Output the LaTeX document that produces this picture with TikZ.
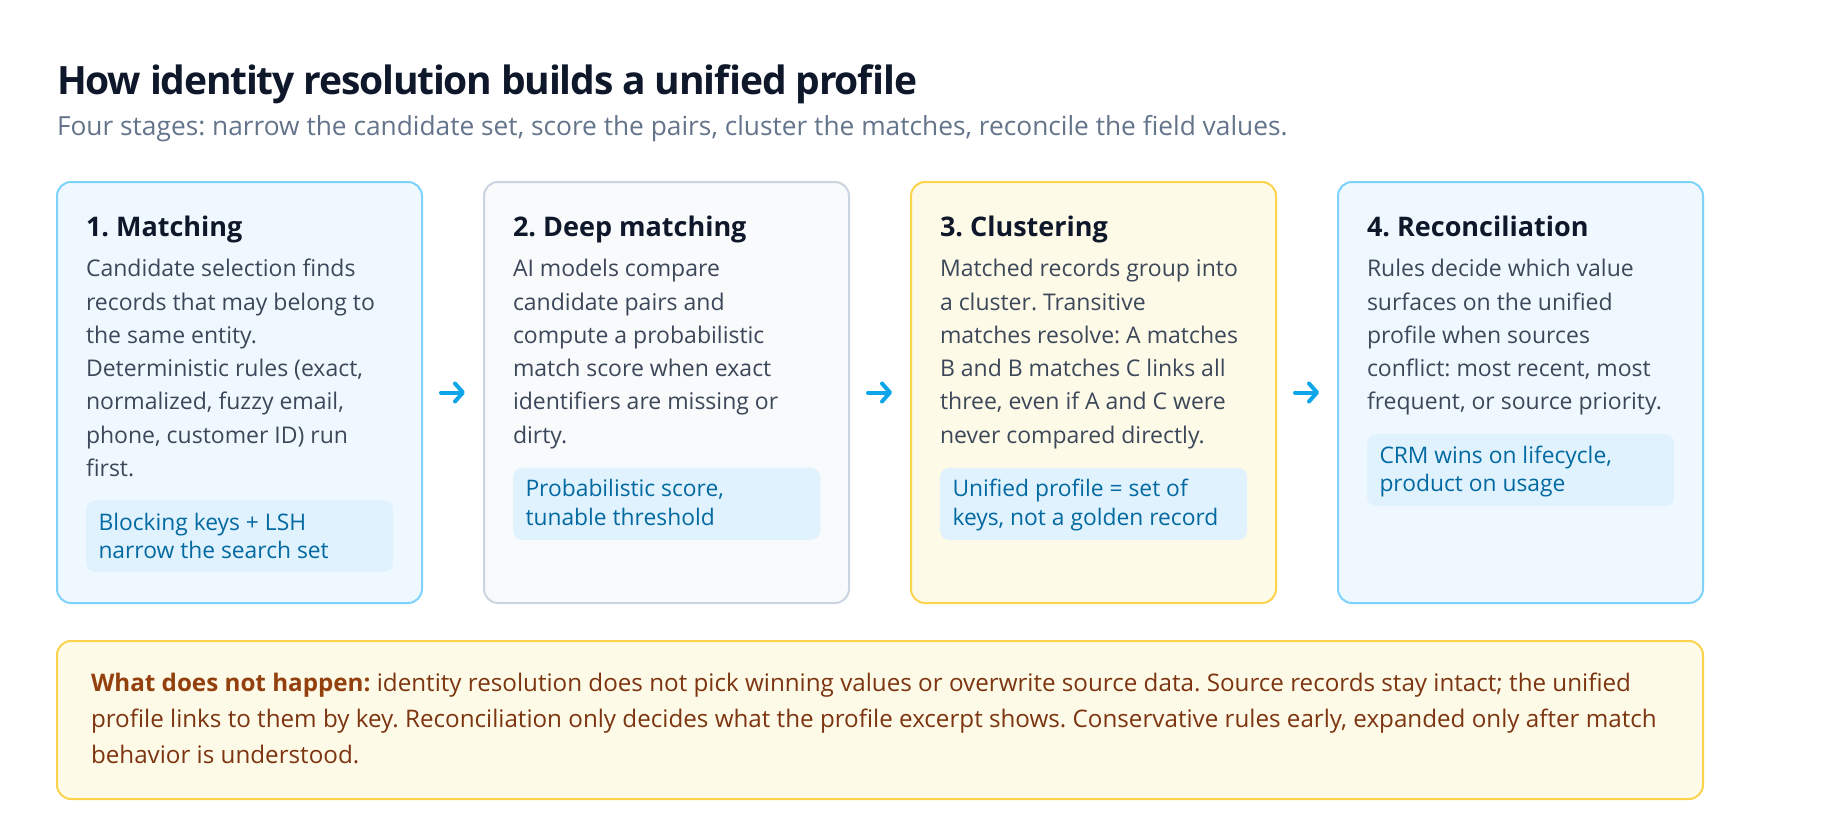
\documentclass[tikz,border=0pt]{standalone}
\usepackage{fontspec}
\setmainfont{Open Sans}
\usetikzlibrary{arrows.meta}
\definecolor{titlec}{HTML}{0F172A}
\definecolor{subc}{HTML}{64748B}
\definecolor{bodyc}{HTML}{3C4759}
\definecolor{skyfill}{HTML}{F0F8FF}
\definecolor{skyline}{HTML}{7DD3FC}
\definecolor{slatefill}{HTML}{F8FAFC}
\definecolor{slateline}{HTML}{CBD5E1}
\definecolor{ambfill}{HTML}{FEFAE8}
\definecolor{ambline}{HTML}{FCD34D}
\definecolor{tagfill}{HTML}{E0F2FE}
\definecolor{tagtext}{HTML}{0369A1}
\definecolor{arrowc}{HTML}{0EA5E9}
\definecolor{notetext}{HTML}{7C3510}
\definecolor{notebold}{HTML}{92400E}
\tikzset{
  stage/.style={line width=2pt, rounded corners=14pt, minimum width=365pt, minimum height=421pt, inner sep=0pt},
  tagbox/.style={fill=tagfill, rounded corners=9pt, minimum width=307pt, minimum height=72pt, inner sep=0pt, anchor=north west},
  txt/.style={anchor=base west, inner sep=0pt, outer sep=0pt},
  heading/.style={txt, text=titlec, font=\fontsize{27}{33}\selectfont\bfseries},
  body/.style={txt, text=bodyc, font=\fontsize{23}{33.3}\selectfont},
  tagtxt/.style={txt, text=tagtext, font=\fontsize{22.8}{28.3}\selectfont},
  flow/.style={draw=arrowc, line width=4pt, line cap=round, shorten <=18pt, shorten >=18pt,
    -{Straight Barb[length=8pt, width=18pt, line cap=round, line join=round]}},
}
\begin{document}
\frenchspacing
\begin{tikzpicture}[x=1pt,y=-1pt]
\fill[white] (0,0) rectangle (1840,816);
\useasboundingbox (0,0) rectangle (1840,816);

\node[txt, text=titlec, font=\fontsize{39}{48}\selectfont\bfseries\addfontfeatures{LetterSpace=-3.1}] (title) at (57,95) {How identity resolution builds a unified profile};
\node[txt, text=subc, font=\fontsize{26.3}{30}\selectfont] (subtitle) at (57,135) {Four stages: narrow the candidate set, score the pairs, cluster the matches, reconcile the field values.};

% stage boxes
\node[stage, draw=skyline, fill=skyfill] (b1) at (239.5,392.5) {};
\node[stage, draw=slateline, fill=slatefill] (b2) at (666.5,392.5) {};
\node[stage, draw=ambline, fill=ambfill] (b3) at (1093.5,392.5) {};
\node[stage, draw=skyline, fill=skyfill] (b4) at (1520.5,392.5) {};

% box 1
\node[heading] (h1) at (86,236.7) {1. Matching};
\node[body] (p1) at (86,276.7) {\vtop{\hbox{Candidate selection finds}\hbox{records that may belong to}\hbox{the same entity.}\hbox{Deterministic rules (exact,}\hbox{normalized, fuzzy email,}\hbox{phone, customer ID) run}\hbox{first.}}};
\node[tagbox] (g1) at (86,500) {};
\node[tagtxt] (k1) at (98.5,530) {\vtop{\hbox{Blocking keys + LSH}\hbox{narrow the search set}}};

% box 2
\node[heading] (h2) at (513,236.7) {2. Deep matching};
\node[body] (p2) at (513,276.7) {\vtop{\hbox{AI models compare}\hbox{candidate pairs and}\hbox{compute a probabilistic}\hbox{match score when exact}\hbox{identifiers are missing or}\hbox{dirty.}}};
\node[tagbox] (g2) at (513,467.7) {};
\node[tagtxt] (k2) at (525.5,496.7) {\vtop{\hbox{Probabilistic score,}\hbox{tunable threshold}}};

% box 3
\node[heading] (h3) at (940,236.7) {3. Clustering};
\node[body] (p3) at (940,276.7) {\vtop{\hbox{Matched records group into}\hbox{a cluster. Transitive}\hbox{matches resolve: A matches}\hbox{B and B matches C links all}\hbox{three, even if A and C were}\hbox{never compared directly.}}};
\node[tagbox] (g3) at (940,467.7) {};
\node[tagtxt] (k3) at (952.5,496.7) {\vtop{\hbox{Unified profile = set of}\hbox{keys, not a golden record}}};

% box 4
\node[heading] (h4) at (1367,236.7) {4. Reconciliation};
\node[body] (p4) at (1367,276.7) {\vtop{\hbox{Rules decide which value}\hbox{surfaces on the unified}\hbox{profile when sources}\hbox{conflict: most recent, most}\hbox{frequent, or source priority.}}};
\node[tagbox] (g4) at (1367,434) {};
\node[tagtxt] (k4) at (1379.5,463.3) {\vtop{\hbox{CRM wins on lifecycle,}\hbox{product on usage}}};

% connectors
\draw[flow] (b1.east) -- (b2.west);
\draw[flow] (b2.east) -- (b3.west);
\draw[flow] (b3.east) -- (b4.west);

% note
\node[draw=ambline, fill=ambfill, line width=2pt, rounded corners=14pt, minimum width=1646pt, minimum height=158pt, inner sep=0pt] (note) at (880,720) {};
\node[txt, text=notetext, font=\fontsize{24.2}{36}\selectfont] (notetxt) at (91,691.7) {\vtop{\hbox{{\color{notebold}\bfseries What does not happen:} identity resolution does not pick winning values or overwrite source data. Source records stay intact; the unified}\hbox{profile links to them by key. Reconciliation only decides what the profile excerpt shows. Conservative rules early, expanded only after match}\hbox{behavior is understood.}}};
\end{tikzpicture}
\end{document}
